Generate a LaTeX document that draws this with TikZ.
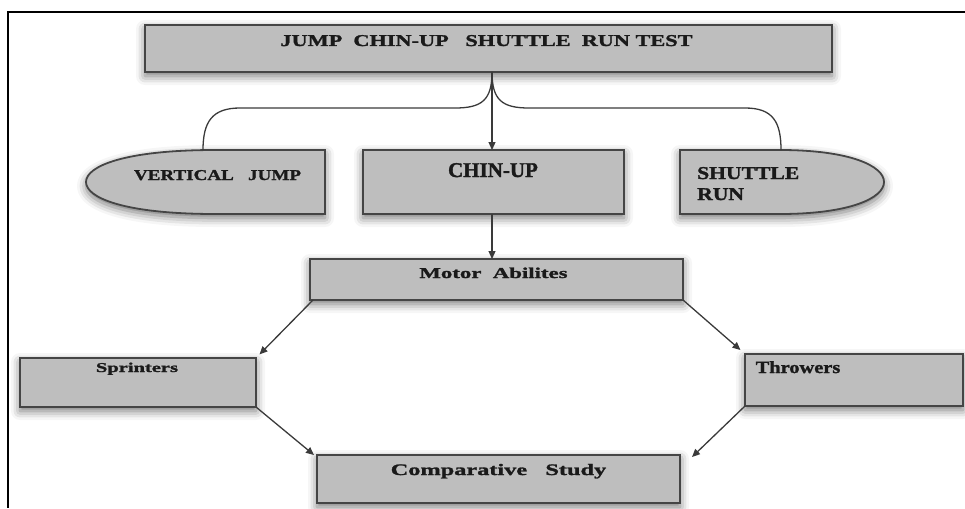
\documentclass[tikz,border=0pt]{standalone}
\usepackage{fontspec}
\setmainfont{Liberation Serif}
% bold serif faces with different horizontal stretch
\newfontfamily\fontA[FakeStretch=1.0,FakeBold=1.6]{Liberation Serif}
\newfontfamily\fontB[FakeStretch=1.2,FakeBold=1.6]{Liberation Serif}
\newfontfamily\fontC[FakeStretch=1.27,FakeBold=1.6]{Liberation Serif}
\newfontfamily\fontD[FakeStretch=1.35,FakeBold=1.6]{Liberation Serif}
\newfontfamily\fontE[FakeStretch=1.52,FakeBold=1.6]{Liberation Serif}
\usetikzlibrary{arrows.meta,shadows.blur}

\definecolor{boxfill}{HTML}{BEBEBE}
\definecolor{boxline}{HTML}{454545}
\definecolor{wire}{HTML}{3A3A3A}
\definecolor{ink}{HTML}{1A1A1A}

\begin{document}
\begin{tikzpicture}[x=1pt,y=-1pt,
  glow/.style={blur shadow={shadow xshift=0pt,shadow yshift=-4pt,
      shadow blur radius=9pt,shadow opacity=55}},
  box/.style={draw=boxline,line width=1.8pt,fill=boxfill,glow,
      inner sep=0pt,outer sep=0pt},
  bullet/.style={draw=boxline,line width=1.8pt,fill=boxfill,glow},
  txt/.style={text=ink,inner sep=0pt,anchor=base},
  wireline/.style={draw=wire,line width=1.3pt},
  arr/.style={wireline,-{Triangle[length=8pt,width=7pt]}}
]
\useasboundingbox (0,0) rectangle (965,508);

% outer frame (top and left edges)
\draw[line width=1.8pt,black] (965,12) -- (8,12) -- (8,508);

% boxes
\node[box,minimum width=687pt,minimum height=47pt] (title) at (488.5,48.5) {};
\node[box,minimum width=261pt,minimum height=64pt] (chin) at (493.5,182) {};
\node[box,minimum width=373pt,minimum height=41pt] (motor) at (496.5,279.5) {};
\node[box,minimum width=236pt,minimum height=49pt] (sprint) at (138,382.5) {};
\node[box,minimum width=218pt,minimum height=52pt] (throw) at (854,380) {};
\node[box,minimum width=363pt,minimum height=48pt] (comp) at (498.5,479) {};

% bullet shapes for the two side tests
\path[bullet] (325,150) -- (215,150) .. controls (125,150) and (86,166) .. (86,182)
  .. controls (86,198) and (125,214) .. (215,214) -- (325,214) -- cycle;
\coordinate (vj) at (203,150);
\path[bullet] (680,150) -- (780,150) .. controls (850,150) and (884,166) .. (884,182)
  .. controls (884,198) and (850,214) .. (780,214) -- (680,214) -- cycle;
\coordinate (sr) at (781,150);

% labels (placed on their baselines)
\node[txt,font=\fontD\bfseries\fontsize{16.5}{18}\selectfont] (tTitle) at (486.5,46)
  {JUMP\ \ CHIN-UP\ \ \ SHUTTLE\ \ RUN\ TEST};
\node[txt,font=\fontC\bfseries\fontsize{15}{17}\selectfont] (tVJ) at (217.5,180)
  {VERTICAL\ \ \ JUMP};
\node[txt,font=\fontA\bfseries\fontsize{21}{23}\selectfont] (tChin) at (493,177)
  {CHIN-UP};
\node[txt,anchor=base west,font=\fontB\bfseries\fontsize{18}{20}\selectfont] (tShuttle)
  at (697,179) {SHUTTLE};
\node[txt,anchor=base west,font=\fontB\bfseries\fontsize{18}{20}\selectfont] (tRun)
  at (697,200) {RUN};
\node[txt,font=\fontE\bfseries\fontsize{15}{17}\selectfont] (tMotor) at (493.5,278)
  {Motor\ \ Abilites};
\node[txt,font=\fontE\bfseries\fontsize{13.5}{15}\selectfont] (tSprint) at (137,372)
  {Sprinters};
\node[txt,font=\fontB\bfseries\fontsize{17}{19}\selectfont] (tThrow) at (798,373)
  {Throwers};
\node[txt,font=\fontE\bfseries\fontsize{16}{18}\selectfont] (tComp) at (498.5,475)
  {Comparative\ \ \ Study};

% connectors
\coordinate (j) at (492,72);
\draw[wireline] (j) .. controls (492,100) and (482,108) .. (455,108) -- (240,108)
  .. controls (212,108) and (203,122) .. (vj);
\draw[wireline] (j) .. controls (492,100) and (502,108) .. (529,108) -- (745,108)
  .. controls (773,108) and (781,122) .. (sr);
\draw[arr] (j) -- (j |- chin.north);
\draw[arr] (chin.south -| j) -- (motor.north -| j);
\draw[arr,shorten >=5pt] (motor.south west) ++(3,0) -- (sprint.north east);
\draw[arr,shorten >=6pt] (motor.south east) -- (throw.north west);
\draw[arr] (sprint.south east) -- ([xshift=-3pt]comp.north west);
\coordinate (ce) at (692,457);
\draw[arr] (throw.south west) -- (ce);
\end{tikzpicture}
\end{document}
